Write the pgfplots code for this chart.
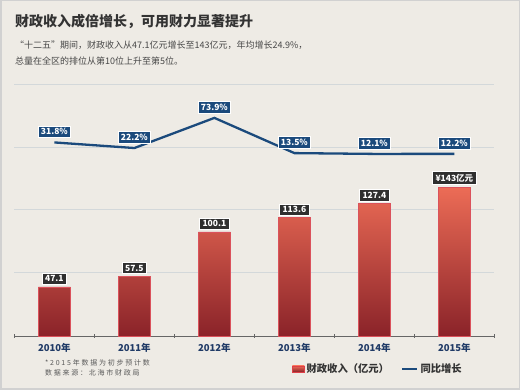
\documentclass[border=0pt]{standalone}
\usepackage{pgfplots}
\pgfplotsset{compat=1.18}
\usepackage{fontspec}
\setmainfont{Noto Sans CJK SC}
\definecolor{bg}{HTML}{EEEBE5}
\definecolor{navy}{HTML}{1B4A7C}
\definecolor{barTop}{HTML}{EC6C56}
\definecolor{barMid}{HTML}{DE4048}
\definecolor{barBot}{HTML}{8A2329}
\definecolor{barEdge}{HTML}{DB525C}
\definecolor{labbg}{HTML}{2F2F2F}
\definecolor{gridc}{HTML}{D3D8DA}
\definecolor{tickc}{HTML}{1F3A66}
\definecolor{txt}{HTML}{333333}
\begin{document}
\begin{tikzpicture}[x=1pt,y=1pt]
\fill[bg] (0,0) rectangle (520,390);
\draw[black!18, line width=1.5pt] (0.75,0.75) rectangle (519.25,389.25);
\node[anchor=west, inner sep=0pt, font=\fontsize{14}{16}\selectfont\bfseries, text=txt] at (15,369) {财政收入成倍增长，可用财力显著提升};
\node[anchor=west, inner sep=0pt, font=\fontsize{9}{10}\selectfont, text=black!72] at (15,345) {“十二五”期间，财政收入从47.1亿元增长至143亿元，年均增长24.9\%，};
\node[anchor=west, inner sep=0pt, font=\fontsize{9}{10}\selectfont, text=black!72] at (15,329) {总量在全区的排位从第10位上升至第5位。};
\node[anchor=west, inner sep=0pt, font=\fontsize{7}{8}\selectfont\addfontfeature{LetterSpace=25}, text=black!65] at (45,27) {*2015年数据为初步预计数};
\node[anchor=west, inner sep=0pt, font=\fontsize{7}{8}\selectfont\addfontfeature{LetterSpace=25}, text=black!65] at (45,17) {数据来源：北海市财政局};
\begin{axis}[
  at={(18,52)}, anchor=south west, scale only axis,
  width=480pt, height=252pt,
  xmin=-0.5, xmax=5.5, ymin=0, ymax=242.3,
  clip=false,
  axis x line*=bottom, axis y line*=left,
  y axis line style={draw=none},
  x axis line style={draw=black!60, line width=0.8pt},
  xtick={0,1,2,3,4,5},
  xticklabels={2010年,2011年,2012年,2013年,2014年,2015年},
  major x tick style={draw=none},
  minor xtick={-0.5,0.5,1.5,2.5,3.5,4.5,5.5},
  minor x tick style={draw=black!60, line width=0.8pt},
  minor tick length=4pt,
  tick align=center,
  xticklabel style={font=\fontsize{9.5}{10}\selectfont\bfseries, text=tickc, yshift=-2pt},
  ytick={60.6,121.2,181.7,242.3},
  yticklabels={},
  major y tick style={draw=none},
  ymajorgrids,
  grid style={gridc, line width=0.8pt},
  legend style={at={(0.578,-0.131)}, anchor=west, draw=none, fill=none, inner sep=0pt,
    font=\fontsize{10.3}{11}\selectfont\bfseries, text=txt,
    /tikz/every even column/.append style={column sep=10pt}},
  legend columns=2,
]
\addplot[ybar, bar width=32pt, draw=barEdge, line width=0.6pt,
  top color=barTop, middle color=barMid, bottom color=barBot,
  point meta=explicit symbolic,
  nodes near coords,
  every node near coord/.append style={anchor=south, yshift=2pt, fill=labbg, draw=white, line width=0.8pt,
    text=white, font=\fontsize{8.5}{9}\selectfont\bfseries, inner xsep=3pt, inner ysep=2.5pt},
  legend image code/.code={\fill[barMid] (0pt,-3pt) rectangle (12pt,3pt);}]
coordinates {(0,47.1) [47.1] (1,57.5) [57.5] (2,100.1) [100.1] (3,113.6) [113.6] (4,127.4) [127.4] (5,143) [¥143亿元]};
\addlegendentry{财政收入（亿元）}
% growth rate (%), mapped onto its own scale: -300.1 .. 132.2 over the axis height
\addplot[navy, line width=2.3pt, mark=none,
  y filter/.expression={(y+300.1)*242.3/432.3},
  point meta=explicit symbolic,
  nodes near coords,
  every node near coord/.append style={anchor=south, yshift=4.5pt, fill=navy, draw=white, line width=0.8pt,
    text=white, font=\fontsize{8.5}{9}\selectfont\bfseries, inner xsep=3pt, inner ysep=2.5pt},
  legend image code/.code={\draw[navy, line width=2.5pt] (0pt,0pt) -- (15pt,0pt);}]
coordinates {(0,31.8) [31.8\%] (1,22.2) [22.2\%] (2,73.9) [73.9\%] (3,13.5) [13.5\%] (4,12.1) [12.1\%] (5,12.2) [12.2\%]};
\addlegendentry{同比增长}
\end{axis}
\end{tikzpicture}
\end{document}
